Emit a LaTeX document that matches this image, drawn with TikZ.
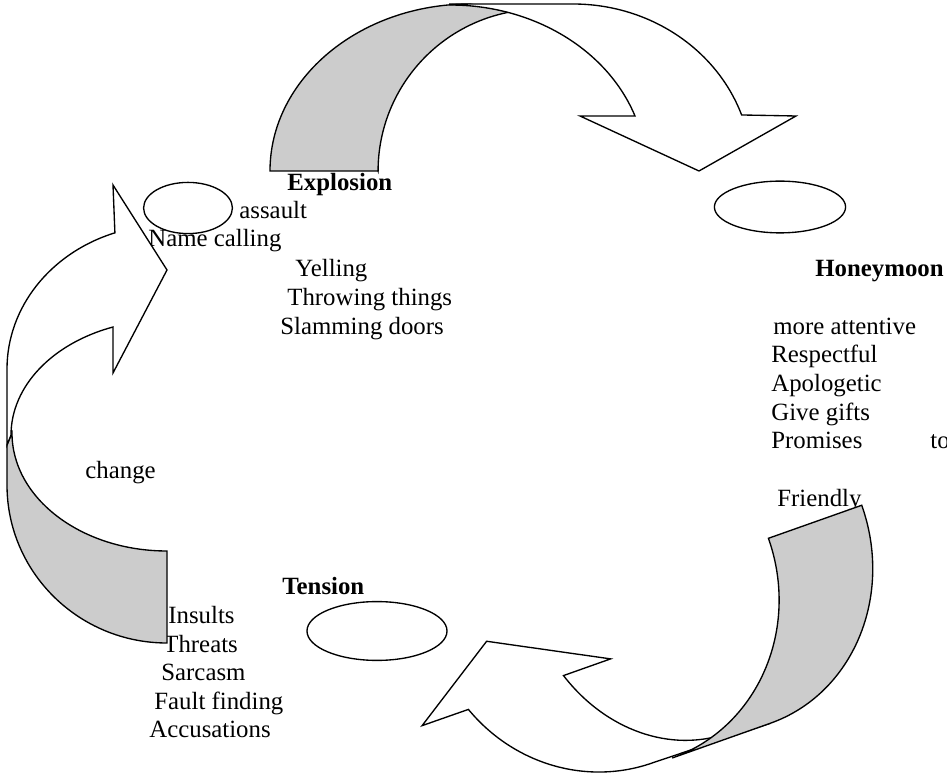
\documentclass[tikz,border=0pt]{standalone}
\usepackage{fontspec}
\setmainfont{Liberation Serif}
\usetikzlibrary{shapes.geometric}

\begin{document}
\begin{tikzpicture}[x=0.017cm, y=-0.017cm,
    font=\fontsize{12}{13.8}\selectfont,
    item/.style={anchor=base west, inner sep=0pt},
    stage/.style={item, font=\fontsize{12}{13.8}\selectfont\bfseries},
    ring/.style={draw, ellipse, inner sep=0pt, line width=0.65pt},
    band/.style={draw, fill=white, line width=0.65pt, line join=miter},
    back/.style={draw, fill=black!20, line width=0.65pt}]
    \useasboundingbox (0,0) rectangle (947,776);

    % text of the three stages
    \node[stage] (explosion) at (287,191) {Explosion};
    \node[item] (assault) at (239,219) {assault};
    \node[item] (namecall) at (148,247) {Name calling};
    \node[item] (yelling) at (295,277) {Yelling};
    \node[item] (throwing) at (287,306) {Throwing things};
    \node[item] (slamming) at (280,335) {Slamming doors};

    \node[stage] (honeymoon) at (815,277) {Honeymoon};
    \node[item] (attentive) at (773,335) {more attentive};
    \node[item] (respect) at (771,363) {Respectful};
    \node[item] (apology) at (771,392) {Apologetic};
    \node[item] (gifts) at (771,421) {Give gifts};
    \node[item] (promises) at (771,449) {Promises};
    \node[item] (to) at (930,449) {to};
    \node[item] (friendly) at (777,507) {Friendly};

    \node[item] (change) at (85,479) {change};

    \node[stage] (tension) at (282,595) {Tension};
    \node[item] (insults) at (168,624) {Insults};
    \node[item] (threats) at (163,653) {Threats};
    \node[item] (sarcasm) at (161,681) {Sarcasm};
    \node[item] (fault) at (154,710) {Fault finding};
    \node[item] (accuse) at (149,738) {Accusations};

    % empty ellipses
    \node[ring, minimum width=1.51cm, minimum height=0.87cm] (explode) at (188,208) {};
    \node[ring, minimum width=2.23cm, minimum height=0.88cm] (moon) at (780,207) {};
    \node[ring, minimum width=2.38cm, minimum height=1.0cm] (tense) at (377,631) {};

    % curved arrow: explosion -> honeymoon
    \draw[back] (378,171) -- (270,171) arc[start angle=180, end angle=270, x radius=200, y radius=167]
        -- (510,12) arc[start angle=259.3, end angle=180, x radius=162, y radius=162] -- cycle;
    \draw[band] (450,4) -- (573,4) arc[start angle=270, end angle=340.4, x radius=179, y radius=167]
        -- (796,116) -- (699,171) -- (580,116) -- (635,116)
        arc[start angle=340.4, end angle=270, x radius=196, y radius=167] -- cycle;

    % curved arrow: honeymoon -> tension
    \begin{scope}[rotate around={19.5:(640,640)}]
        \draw[band] (735,762) -- (611,760) arc[start angle=90, end angle=159.3, x radius=166.7, y radius=173]
            -- (406,648) -- (495,590) -- (606,648) -- (556,648)
            arc[start angle=159, end angle=90, x radius=145, y radius=170] -- cycle;
        \draw[back] (795,587) -- (894,587) arc[start angle=0, end angle=90, x radius=159, y radius=175]
            -- (631,762) arc[start angle=90, end angle=0, x radius=164, y radius=175] -- cycle;
    \end{scope}

    % curved arrow: tension -> explosion
    \draw[back] (167,551) arc[start angle=90, end angle=180, x radius=155, y radius=118]
        -- (7,445) -- (7,485) arc[start angle=180, end angle=90, x radius=160, y radius=158] -- cycle;
    \draw[band] (7,445) -- (7,369) arc[start angle=180, end angle=251, x radius=160, y radius=144]
        -- (113,185) -- (167,270) -- (113,373) -- (113,327)
        arc[start angle=250, end angle=180, x radius=155, y radius=115] -- cycle;
\end{tikzpicture}
\end{document}
